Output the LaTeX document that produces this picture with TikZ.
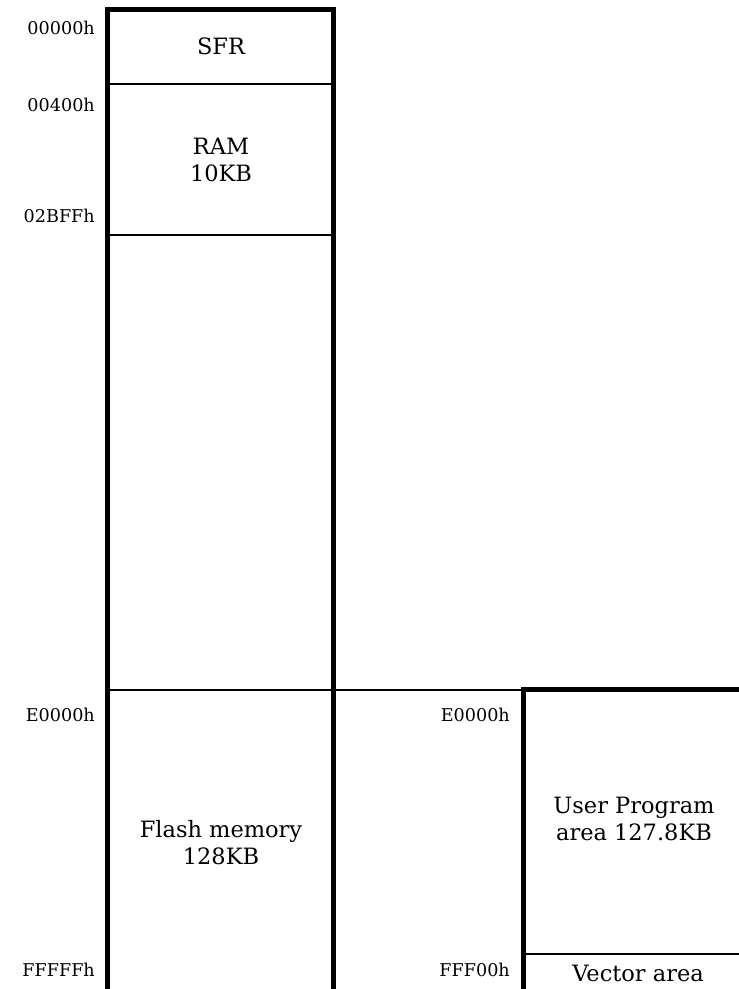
\documentclass[tikz,border=0pt]{standalone}
\usepackage{fontspec}
\setmainfont{DejaVu Serif}
\usetikzlibrary{positioning}

\tikzset{
  wall/.style={line width=5pt,line join=miter},
  divider/.style={line width=1.6pt},
  addr/.style={anchor=east,inner sep=0pt,font=\fontsize{17.6}{20}\selectfont},
  area/.style={align=center,inner sep=0pt,font=\fontsize{22.5}{27}\selectfont}
}

\begin{document}
\begin{tikzpicture}[x=1pt,y=-1pt]
  \useasboundingbox (0,0) rectangle (739,989);

  % memory space column
  \draw[wall] (107.5,989) -- (107.5,9.5) -- (333,9.5) -- (333,989);
  \draw[divider] (107.5,84) -- (333,84);
  \draw[divider] (107.5,235) -- (333,235);
  \draw[divider] (107.5,690) -- (523,690);

  % flash detail column
  \draw[wall] (523,989) -- (523,689) -- (739,689);
  \draw[divider] (523,954) -- (739,954);

  % areas
  \node[area] (sfr)   at (221,46)  {SFR};
  \node[area] (ram)   at (221,160) {RAM\\10KB};
  \node[area] (flash) at (221,843) {Flash memory\\128KB};
  \node[area] (user)  at (634,819) {User Program\\area 127.8KB};
  \node[area] (vect)  at (638,973) {Vector area};

  % addresses
  \node[addr] (a00000) at (95,28)  {00000h};
  \node[addr] (a00400) at (95,105) {00400h};
  \node[addr] (a02bff) at (95,216) {02BFFh};
  \node[addr] (ae0000) at (95,715) {E0000h};
  \node[addr] (afffff) at (95,970) {FFFFFh};
  \node[addr] (be0000) at (510,715) {E0000h};
  \node[addr] (bfff00) at (510,970) {FFF00h};
\end{tikzpicture}
\end{document}
